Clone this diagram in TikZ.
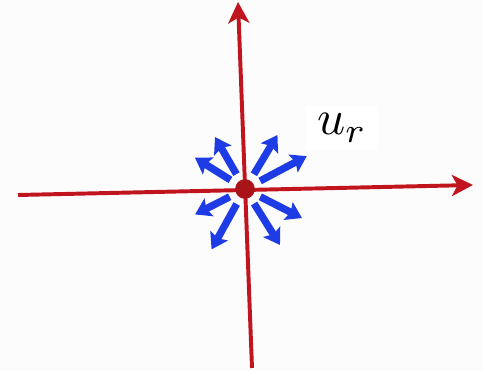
\documentclass[tikz,border=0pt]{standalone}
\usetikzlibrary{arrows.meta, calc}
\definecolor{axred}{HTML}{C0141E}
\definecolor{dotred}{HTML}{A81418}
\definecolor{fluxblue}{HTML}{1E3CE6}
\definecolor{paper}{HTML}{FCFCFC}

\begin{document}
\begin{tikzpicture}[
  x=0.025cm, y=0.025cm,
  axis/.style={draw=axred, line width=2.8pt,
    -{Stealth[length=15pt, width=15pt, inset=4pt]}},
  flux/.style={draw=fluxblue, line width=5.2pt, shorten <=5pt,
    -{Stealth[length=11pt, width=14pt, inset=2pt]}},
  origin/.style={circle, fill=dotred, inner sep=0pt, minimum size=14pt},
  lab/.style={fill=white, inner xsep=8pt, inner ysep=6pt},
]

% Background
\fill[paper] (0,0) rectangle (483,371);
\useasboundingbox (0,0) rectangle (483,371);

% Axes
\coordinate (xl) at (18,176);
\coordinate (xr) at (473,186);
\coordinate (yb) at (252,3);
\coordinate (yt) at (238,369);
\draw[axis] (xl) -- (xr);
\draw[axis] (yb) -- (yt);

\node[origin] (o) at (245,182) {};

% Radial vectors
\foreach \a/\r [count=\i] in {120/60, 148/59, 59/63, 28/70, -153/56, -119/69, -27/64, -58/66} {
  \coordinate (f\i) at ($(o)+(\a:\r)$);
  \draw[flux] (o) -- (f\i);
}

\node[lab] (ur) at (342,243) {\scalebox{3.5}{$u_r$}};
\end{tikzpicture}
\end{document}
